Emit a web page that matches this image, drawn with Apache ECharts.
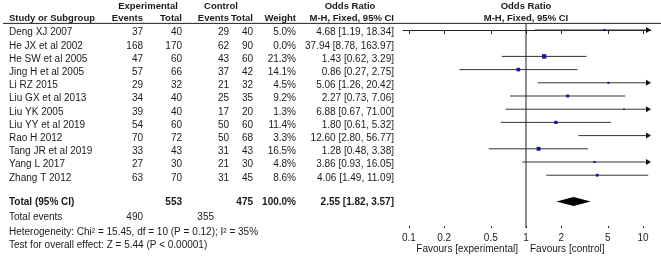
<!DOCTYPE html>
<html>
<head>
<meta charset="utf-8">
<script src="https://cdn.jsdelivr.net/npm/echarts@6/dist/echarts.min.js"></script>
<style>
  html, body { margin: 0; padding: 0; background: #fff; }
  #forestChart { width: 661px; height: 258px; }
</style>
</head>
<body>
<div id="forestChart"></div>
<script>
  // study level data
  var studies = ['Deng XJ 2007', 'He JX et al 2002', 'He SW et al 2005', 'Jing H et al 2005', 'Li RZ 2015',
    'Liu GX et al 2013', 'Liu YK 2005', 'Liu YY et al 2019', 'Rao H 2012', 'Tang JR et al 2019', 'Yang L 2017', 'Zhang T 2012'];
  var expEvents = [37, 168, 47, 57, 29, 34, 39, 54, 70, 33, 27, 63];
  var expTotal = [40, 170, 60, 66, 32, 40, 40, 60, 72, 43, 30, 70];
  var ctrlEvents = [29, 62, 43, 37, 21, 25, 17, 50, 50, 31, 21, 31];
  var ctrlTotal = [40, 90, 60, 42, 32, 35, 20, 60, 68, 43, 30, 45];
  var weights = [5.0, 0.0, 21.3, 14.1, 4.5, 9.2, 1.3, 11.4, 3.3, 16.5, 4.8, 8.6];
  var oddsRatio = [4.68, 37.94, 1.43, 0.86, 5.06, 2.27, 6.88, 1.80, 12.60, 1.28, 3.86, 4.06];
  var ciLow = [1.19, 8.78, 0.62, 0.27, 1.26, 0.73, 0.67, 0.61, 2.80, 0.48, 0.93, 1.49];
  var ciHigh = [18.34, 163.97, 3.29, 2.75, 20.42, 7.06, 71.00, 5.32, 56.77, 3.38, 16.05, 11.09];

  // pooled result
  var totalOR = [2.55, 1.82, 3.57];   // estimate, low, high
  var totalN = [553, 475];
  var totalEvents = [490, 355];
  var totalWeight = 100.0;
  var heterogeneityText = 'Heterogeneity: Chi\u00b2 = 15.45, df = 10 (P = 0.12); I\u00b2 = 35%';
  var overallText = 'Test for overall effect: Z = 5.44 (P < 0.00001)';

  var axisTicks = [0.1, 0.2, 0.5, 1, 2, 5, 10];
  var xMin = 0.0889, xMax = 11.7;

  var FONT = '"Liberation Sans", Arial, sans-serif';
  var TEXT_COLOR = '#1a1a1a';
  var FONT_SIZE = 10;
  var HEAD_SIZE = 9.5;

  function fmtCI(o, l, h) {
    return o.toFixed(2) + ' [' + l.toFixed(2) + ', ' + h.toFixed(2) + ']';
  }

  // table cells: x is pixel column, row is row index
  var cells = [];
  function cell(x, row, text, align, bold, size) {
    cells.push({x: x, row: row, text: String(text), align: align, bold: !!bold, size: size || FONT_SIZE});
  }
  // header
  cell(148, -1.82, 'Experimental', 'center', true, HEAD_SIZE);
  cell(221, -1.82, 'Control', 'center', true, HEAD_SIZE);
  cell(350, -1.82, 'Odds Ratio', 'center', true, HEAD_SIZE);
  cell(526, -1.82, 'Odds Ratio', 'center', true, HEAD_SIZE);
  cell(9, -0.91, 'Study or Subgroup', 'left', true, HEAD_SIZE);
  cell(143, -0.91, 'Events', 'right', true, HEAD_SIZE);
  cell(182, -0.91, 'Total', 'right', true, HEAD_SIZE);
  cell(229, -0.91, 'Events', 'right', true, HEAD_SIZE);
  cell(253, -0.91, 'Total', 'right', true, HEAD_SIZE);
  cell(296, -0.91, 'Weight', 'right', true, HEAD_SIZE);
  cell(394, -0.91, 'M-H, Fixed, 95% CI', 'right', true, HEAD_SIZE);
  cell(526, -0.91, 'M-H, Fixed, 95% CI', 'center', true, HEAD_SIZE);

  for (var i = 0; i < studies.length; i++) {
    var r = i + 0.2;
    cell(9, r, studies[i], 'left');
    cell(143, r, expEvents[i], 'right');
    cell(182, r, expTotal[i], 'right');
    cell(229, r, ctrlEvents[i], 'right');
    cell(253, r, ctrlTotal[i], 'right');
    cell(296, r, weights[i].toFixed(1) + '%', 'right');
    cell(394, r, fmtCI(oddsRatio[i], ciLow[i], ciHigh[i]), 'right');
  }
  cell(9, 13.05, 'Total (95% CI)', 'left', true);
  cell(182, 13.05, totalN[0], 'right', true);
  cell(253, 13.05, totalN[1], 'right', true);
  cell(296, 13.05, totalWeight.toFixed(1) + '%', 'right', true);
  cell(394, 13.05, fmtCI(totalOR[0], totalOR[1], totalOR[2]), 'right', true);
  cell(9, 14.2, 'Total events', 'left');
  cell(143, 14.2, totalEvents[0], 'right');
  cell(214, 14.2, totalEvents[1], 'right');
  cell(9, 15.3, heterogeneityText, 'left');
  cell(9, 16.3, overallText, 'left');
  cell(518, 16.6, 'Favours [experimental]', 'right');
  cell(530, 16.6, 'Favours [control]', 'left');

  var studyData = [];
  for (var j = 0; j < studies.length; j++) {
    if (weights[j] > 0) studyData.push([oddsRatio[j], j, ciLow[j], ciHigh[j], weights[j]]);
  }

  var myChart = echarts.init(document.getElementById('forestChart'));
  var option = {
    animation: false,
    grid: [
      {left: 0, right: 0, top: 0, bottom: 0},
      {left: 403, right: 10, top: 0, bottom: 30}
    ],
    xAxis: [
      {gridIndex: 0, type: 'value', min: 0, max: 661, show: false},
      {
        gridIndex: 1, type: 'log', logBase: 10, min: xMin, max: xMax, position: 'bottom',
        axisLine: {show: true, lineStyle: {color: '#222', width: 1}},
        axisTick: {show: true, length: 4, lineStyle: {color: '#222'}, customValues: axisTicks},
        axisLabel: {
          show: true, customValues: axisTicks, margin: 5, color: '#222', fontSize: FONT_SIZE, fontFamily: FONT,
          formatter: function (v) { return String(+(+v).toPrecision(2)); }
        },
        splitLine: {show: false}
      },
      {
        gridIndex: 1, type: 'log', logBase: 10, min: xMin, max: xMax, position: 'bottom',
        axisLine: {show: false},
        axisTick: {show: true, inside: true, length: 2, lineStyle: {color: '#222'}, customValues: axisTicks},
        axisLabel: {show: false},
        splitLine: {show: false}
      }
    ],
    yAxis: [
      {gridIndex: 0, type: 'value', inverse: true, min: -2.2727, max: 17.2727, show: false},
      {gridIndex: 1, type: 'value', inverse: true, min: -2.2727, max: 15, show: false}
    ],
    series: [
      {
        // header underline
        type: 'line', xAxisIndex: 0, yAxisIndex: 0, symbol: 'none', silent: true,
        data: [[3, -0.5], [661, -0.5]],
        lineStyle: {color: '#222', width: 1}
      },
      {
        // line of no effect
        type: 'line', xAxisIndex: 1, yAxisIndex: 1, symbol: 'none', silent: true,
        data: [[1, -0.5], [1, 15]],
        lineStyle: {color: '#222', width: 1}
      },
      {
        type: 'custom', xAxisIndex: 0, yAxisIndex: 0, silent: true,
        data: cells.map(function (c) { return [c.x, c.row]; }),
        renderItem: function (params, api) {
          var c = cells[params.dataIndex];
          var p = api.coord([c.x, c.row]);
          return {
            type: 'text', x: p[0], y: p[1],
            style: {
              text: c.text, align: c.align, verticalAlign: 'middle',
              fontSize: c.size, fontFamily: FONT, fontWeight: c.bold ? 'bold' : 'normal', fill: TEXT_COLOR
            }
          };
        }
      },
      {
        // study CIs and squares
        type: 'custom', xAxisIndex: 1, yAxisIndex: 1, silent: true,
        data: studyData,
        renderItem: function (params, api) {
          var or = api.value(0), row = api.value(1), lo = api.value(2), hi = api.value(3), w = api.value(4);
          var pLo = api.coord([Math.max(lo, xMin), row]);
          var pHi = api.coord([Math.min(hi, xMax), row]);
          var y = pLo[1];
          var arrow = hi > xMax;
          var kids = [{
            type: 'line',
            shape: {x1: pLo[0], y1: y, x2: arrow ? pHi[0] - 4 : pHi[0], y2: y},
            style: {stroke: '#333', lineWidth: 1}
          }];
          if (arrow) {
            kids.push({
              type: 'polygon',
              shape: {points: [[pHi[0], y], [pHi[0] - 5, y - 3], [pHi[0] - 5, y + 3]]},
              style: {fill: '#111'}
            });
          }
          if (or <= xMax) {
            var p = api.coord([or, row]);
            var s = Math.max(1.6, Math.sqrt(w) * 0.95);
            kids.push({
              type: 'rect',
              shape: {x: p[0] - s / 2, y: p[1] - s / 2, width: s, height: s},
              style: {fill: '#14149c'}
            });
          }
          return {type: 'group', children: kids};
        }
      },
      {
        // pooled diamond
        type: 'custom', xAxisIndex: 1, yAxisIndex: 1, silent: true,
        data: [[totalOR[0], 13, totalOR[1], totalOR[2]]],
        renderItem: function (params, api) {
          var row = api.value(1);
          var c = api.coord([api.value(0), row]);
          var l = api.coord([api.value(2), row]);
          var h = api.coord([api.value(3), row]);
          return {
            type: 'polygon',
            shape: {points: [[l[0], c[1]], [c[0], c[1] - 4.5], [h[0], c[1]], [c[0], c[1] + 4.5]]},
            style: {fill: '#000'}
          };
        }
      }
    ]
  };
  myChart.setOption(option);
</script>
</body>
</html>
